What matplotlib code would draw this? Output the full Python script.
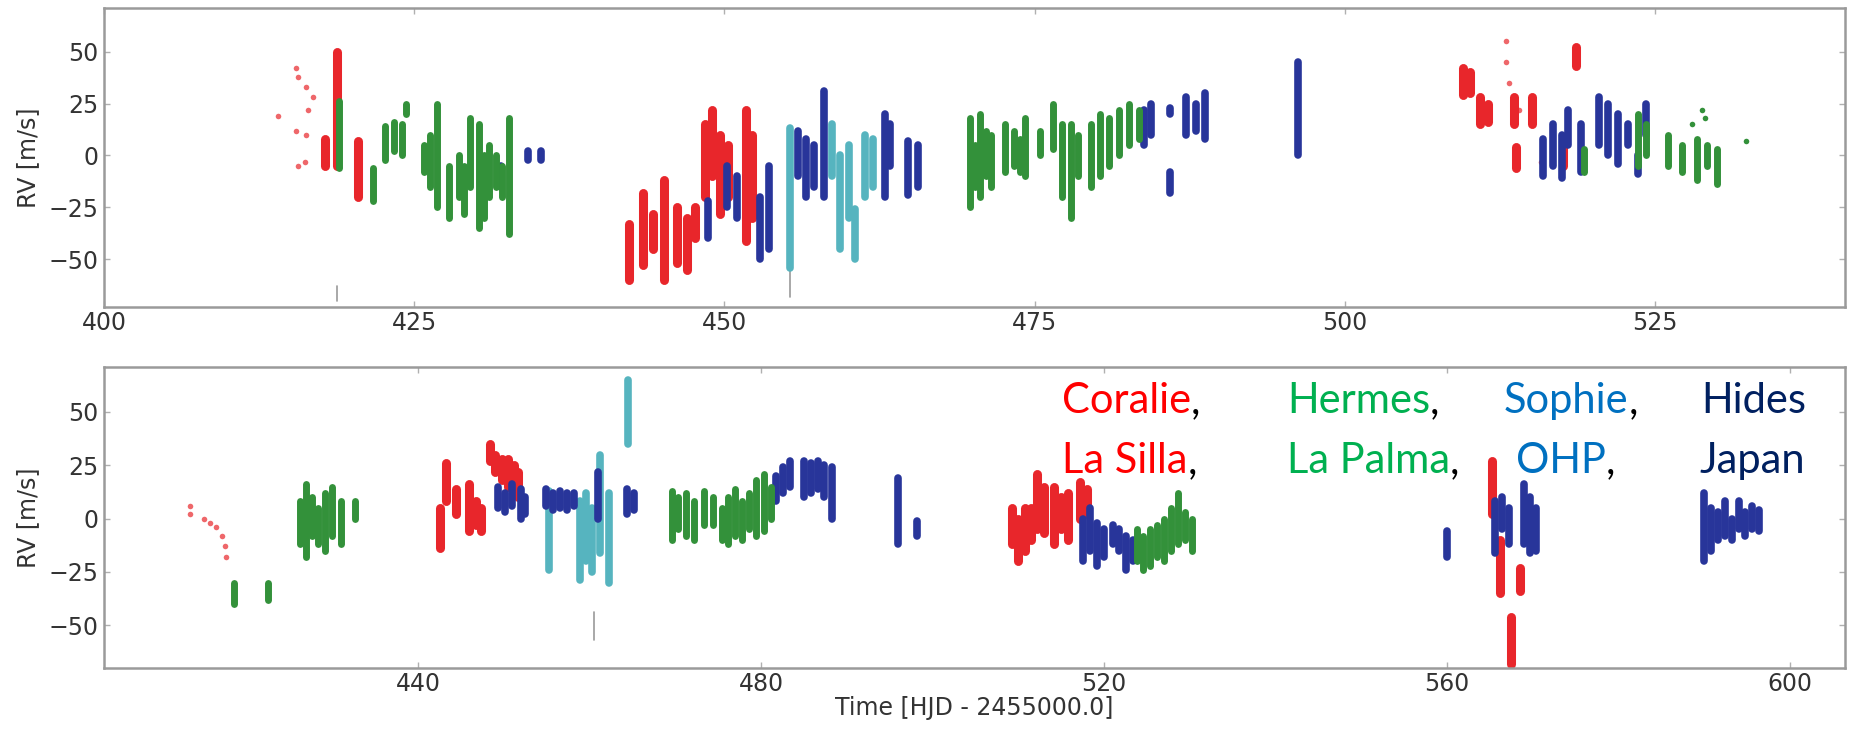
import matplotlib.pyplot as plt

# nightly RV ranges: (time, rv_low, rv_high) in HJD-2455000 and m/s
coralie_top = [
    (417.8, -5, 8), (418.8, -5, 50), (420.5, -20, 7),
    (442.3, -60, -33), (443.4, -53, -18), (444.2, -45, -28), (445.1, -60, -12),
    (446.2, -52, -25), (447.0, -55, -30), (447.6, -40, -25), (448.4, -20, 15),
    (449.0, -10, 22), (449.6, -28, 10), (450.3, -20, 5), (451.7, -41, 22),
    (452.2, -30, 10),
    (509.5, 29, 42), (510.1, 30, 40), (510.9, 15, 28), (511.5, 16, 25),
    (513.6, 15, 28), (513.8, -6, 4), (515.1, 15, 28), (517.6, -5, 5),
    (518.6, 43, 52),
]
hermes_top = [
    (418.9, -6, 26), (421.7, -22, -6), (422.6, -2, 14), (423.4, 2, 16),
    (424.0, 0, 15), (424.3, 20, 25),
    (425.8, -8, 5), (426.3, -15, 10), (426.8, -25, 25), (427.8, -30, -5),
    (428.6, -20, 0), (429.0, -28, -5), (429.5, -15, 18), (430.2, -35, 15),
    (430.6, -30, 0), (431.0, -20, 5), (431.6, -15, 0), (432.1, -20, -5),
    (432.6, -38, 18),
    (469.8, -25, 18), (470.2, -15, 5), (470.6, -20, 20), (471.1, -10, 12),
    (471.5, -15, 10), (472.6, -8, 15), (473.3, -5, 12), (473.8, -8, 8),
    (474.2, -10, 18), (475.4, 0, 12), (476.5, 3, 25), (477.2, -20, 15),
    (477.9, -30, 15), (478.5, -10, 10), (479.5, -15, 15), (480.3, -10, 20),
    (481.0, -5, 18), (481.8, 0, 22), (482.6, 5, 25), (483.4, 8, 22),
    (519.3, -8, 3), (523.6, -5, 20), (524.3, 0, 15), (526.0, -5, 10),
    (527.2, -8, 5), (528.4, -12, 8), (529.2, -5, 5), (530.0, -14, 3),
]
sophie_top = [
    (455.3, -54, 13), (458.7, -10, 15), (459.3, -45, 0), (460.0, -30, 5),
    (460.5, -50, -26), (461.3, -20, 10), (462.0, -15, 8),
]
hides_top = [
    (432.0, -15, -5), (434.2, -2, 2), (435.2, -2, 2),
    (448.7, -40, -22), (450.2, -25, -5), (451.0, -30, -10), (452.9, -50, -20),
    (453.6, -45, -5), (455.9, -10, 12), (456.6, -20, 8), (457.2, -15, 5),
    (458.0, -20, 31), (462.9, -20, 20), (463.3, -5, 15), (464.8, -19, 7),
    (465.6, -15, 5),
    (483.8, 5, 22), (484.4, 10, 25), (485.9, -18, -8), (485.9, 20, 23),
    (487.2, 10, 28), (488.0, 12, 25), (488.7, 8, 30), (496.2, 0, 45),
    (516.0, -10, 8), (516.8, -5, 15), (517.5, -11, 10), (518.0, 5, 22),
    (519.0, -8, 15), (520.5, 5, 28), (521.2, 0, 25), (522.0, -4, 20),
    (522.8, 5, 15), (523.6, -9, 0), (524.3, 10, 25),
]
outliers_top = [(418.8, -70, -63), (455.3, -68, -52)]

coralie_top_pts_t = [414.0, 415.5, 415.6, 415.5, 415.6, 416.3, 416.4, 416.3, 416.2,
                     416.8, 513.0, 513.0, 513.2, 514.0, 515.8]
coralie_top_pts_rv = [19, 42, 38, 12, -5, 33, 22, 10, -3, 28, 55, 45, 35, 22, -3]
hermes_top_pts_t = [532.3, 528.0, 528.8, 529.0]
hermes_top_pts_rv = [7, 15, 22, 18]

coralie_bot = [
    (442.6, -14, 5), (443.3, 8, 26), (444.4, 2, 14), (446.0, -6, 16),
    (446.8, -3, 8), (447.3, -6, 5), (448.4, 27, 35), (449.0, 22, 30),
    (449.8, 18, 28), (450.5, 15, 28), (451.2, 18, 25), (451.7, 10, 22),
    (509.3, -12, 5), (510.0, -20, 0), (510.8, -15, 5), (511.5, -10, 5),
    (512.2, -5, 21), (513.0, -7, 15), (514.2, -12, 15), (515.0, -5, 10),
    (515.8, -10, 12), (517.2, 0, 17), (518.0, 2, 14),
    (565.3, 2, 27), (566.2, -35, -10), (567.5, -68, -46), (568.5, -34, -23),
]
hermes_bot = [
    (418.5, -40, -30), (422.5, -38, -30), (426.3, -12, 8), (427.0, -18, 16),
    (427.7, -8, 10), (428.4, -12, 5), (429.2, -15, 12), (430.0, -8, 15),
    (431.0, -12, 8), (432.7, 0, 8),
    (469.6, -10, 13), (470.3, -5, 10), (471.2, -8, 12), (472.2, -10, 8),
    (473.3, -3, 13), (474.4, -3, 10), (475.4, -10, 5), (476.2, -12, 10),
    (477.0, -8, 14), (477.8, -10, 8), (478.6, -5, 12), (479.4, -8, 18),
    (480.3, -6, 21), (481.2, 0, 15),
    (523.8, -20, -5), (524.6, -24, -8), (525.4, -22, -5), (526.2, -18, -3),
    (527.0, -20, 0), (527.8, -15, 5), (528.6, -12, 12), (529.4, -10, 3),
    (530.3, -15, 0),
]
sophie_bot = [
    (455.3, -24, 13), (458.9, -29, 8), (459.6, -20, 12), (460.3, -25, 5),
    (461.2, -16, 30), (462.3, -30, 12), (464.5, 35, 65),
]
hides_bot = [
    (449.3, 5, 15), (450.2, 3, 12), (451.0, 6, 16), (452.0, 0, 14),
    (452.5, 2, 10), (454.9, 6, 14), (455.8, 4, 12), (456.6, 5, 13),
    (457.4, 4, 12), (458.2, 6, 12), (461.0, 0, 22), (464.4, 2, 14),
    (465.2, 4, 12),
    (481.8, 8, 20), (482.6, 12, 24), (483.4, 15, 27), (485.0, 10, 27),
    (485.8, 12, 26), (486.6, 14, 27), (487.4, 10, 25), (488.3, 0, 24),
    (496.0, -12, 19), (498.2, -8, -1),
    (517.6, -20, 0), (518.4, -15, 5), (519.2, -22, -2), (520.0, -18, -5),
    (521.0, -12, -3), (521.8, -15, -5), (522.6, -24, -8), (523.4, -20, -10),
    (560.0, -18, -6), (565.6, -16, 8), (566.4, -5, 10), (567.2, -12, 5),
    (569.0, -12, 16), (569.7, -16, 10), (570.4, -15, 5),
    (590.0, -20, 12), (590.8, -15, 5), (591.6, -10, 3), (592.4, -8, 8),
    (593.2, -10, 0), (594.0, -5, 8), (594.8, -8, 3), (595.6, -5, 6),
    (596.4, -6, 4),
]
outliers_bot = [(460.5, -57, -44)]

coralie_bot_pts_t = [413.4, 413.4, 415.0, 415.8, 416.5, 417.2, 417.5, 417.6]
coralie_bot_pts_rv = [2, 6, 0, -2, -4, -8, -13, -18]

RED = "#e8262b"
GREEN = "#33913a"
CYAN = "#56b4bf"
NAVY = "#28359a"

top_xticks = [400, 425, 450, 475, 500, 525]
bot_xticks = [440, 480, 520, 560, 600]
yticks = [-50, -25, 0, 25, 50]


def streaks(ax, nights, color, lw):
    t = [n[0] for n in nights]
    lo = [n[1] for n in nights]
    hi = [n[2] for n in nights]
    ax.vlines(t, lo, hi, colors=color, linewidth=lw, capstyle="round")


def style_axes(ax, xlim, ylim, xticks):
    ax.set_xlim(*xlim)
    ax.set_ylim(*ylim)
    ax.set_xticks(xticks)
    ax.set_yticks(yticks)
    for s in ax.spines.values():
        s.set_color("#9a9a9a")
        s.set_linewidth(1.8)
    ax.tick_params(direction="in", length=4, width=1, color="#b0b0b0",
                   labelsize=17, labelcolor="#333333", top=True, right=True)
    ax.tick_params(axis="x", pad=3)
    ax.tick_params(axis="y", pad=4)
    ax.set_ylabel("RV [m/s]", fontsize=17, color="#333333", labelpad=6)


fig = plt.figure(figsize=(18.52, 7.29), dpi=100)
ax1 = fig.add_axes([0.0562, 0.5789, 0.94, 0.4101])
ax2 = fig.add_axes([0.0562, 0.0837, 0.94, 0.4129])

streaks(ax1, outliers_top, "#9a9a9a", 1.2)
streaks(ax1, coralie_top, RED, 6.5)
ax1.plot(coralie_top_pts_t, coralie_top_pts_rv, "o", ms=4, color=RED, mec="none", alpha=0.7)
streaks(ax1, sophie_top, CYAN, 5.5)
streaks(ax1, hides_top, NAVY, 5.5)
streaks(ax1, hermes_top, GREEN, 5)
ax1.plot(hermes_top_pts_t, hermes_top_pts_rv, "o", ms=4, color=GREEN, mec="none")
style_axes(ax1, (400, 540.3), (-73, 71), top_xticks)

streaks(ax2, outliers_bot, "#9a9a9a", 1.2)
streaks(ax2, coralie_bot, RED, 6.5)
ax2.plot(coralie_bot_pts_t, coralie_bot_pts_rv, "o", ms=4, color=RED, mec="none", alpha=0.7)
streaks(ax2, sophie_bot, CYAN, 5.5)
streaks(ax2, hides_bot, NAVY, 5.5)
streaks(ax2, hermes_bot, GREEN, 5)
style_axes(ax2, (403.4, 606.4), (-70, 71), bot_xticks)
ax2.set_xlabel("Time [HJD - 2455000.0]", fontsize=17, color="#333333", labelpad=0)

# instrument key written as coloured words followed by black commas
renderer = fig.canvas.get_renderer()
W, H = 1852, 729
key = [
    ("Coralie", "#ff0000", 1062, 413, True), ("La Silla", "#ff0000", 1062, 473, True),
    ("Hermes", "#00b050", 1287, 413, True), ("La Palma", "#00b050", 1287, 473, True),
    ("Sophie", "#0070c0", 1504, 413, True), ("OHP", "#0070c0", 1516, 473, True),
    ("Hides", "#002060", 1701, 413, False), ("Japan", "#002060", 1699, 473, False),
]
for word, color, px, py, comma in key:
    t = fig.text(px / W, 1 - py / H, word, color=color, fontsize=30,
                 family="Lato", va="baseline")
    if comma:
        bb = t.get_window_extent(renderer=renderer)
        fig.text(bb.x1 / W, 1 - py / H, ",", color="black", fontsize=30,
                 family="Lato", va="baseline")

fig.savefig("out.png", dpi=100)
